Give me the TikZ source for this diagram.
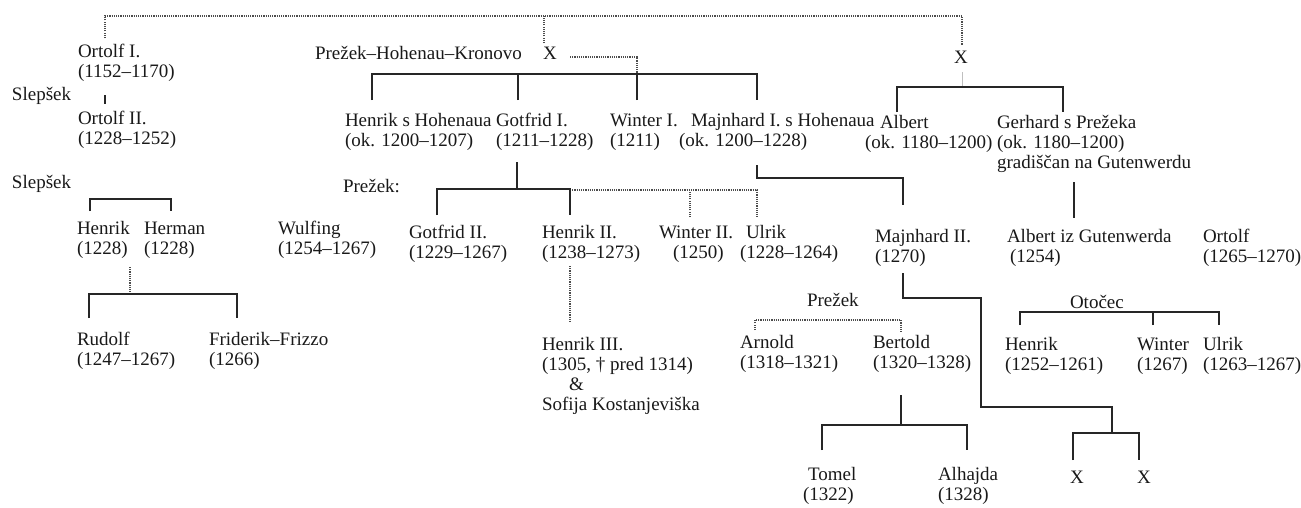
\documentclass[tikz,border=0pt]{standalone}
\usepackage{fontspec}
\setmainfont{Liberation Serif}
\newcommand\pfont{\fontsize{19}{20}\selectfont}
\newcommand\pers[1]{\begin{tabular}[t]{@{}l@{}}#1\end{tabular}}
\begin{document}
\begin{tikzpicture}[x=1pt,y=-1pt,
  person/.style={anchor=base west, inner sep=0pt, outer sep=0pt, font=\pfont, text=black!90},
  tie/.style={line width=1.8pt, black!85},
  dotl/.style={line width=1.4pt, black!70, dash pattern=on 1.1pt off 1.1pt},
  faint/.style={line width=1pt, black!25}]
\useasboundingbox[fill=white] (0,0) rectangle (1301,507);

% ---------- texts ----------
\node[person] (ortI)  at (78,57)  {\pers{Ortolf I.\\(1152–1170)}};
\node[person] (slepA) at (12,100) {Slepšek};
\node[person] (ortII) at (78,124) {\pers{Ortolf II.\\(1228–1252)}};
\node[person] (phk)   at (315,59) {Prežek–Hohenau–Kronovo};
\node[person] (xA)    at (543,59) {X};
\node[person] (xB)    at (954,63) {X};

\node[person] (henS)  at (345,126) {\pers{Henrik s Hohenaua\\(ok. 1200–1207)}};
\node[person] (gotI)  at (496,126) {\pers{Gotfrid I.\\(1211–1228)}};
\node[person] (winI)  at (610,126) {\pers{Winter I.\\(1211)}};
\node[person] (majI)  at (679,126) {\pers{\hspace{12pt}Majnhard I. s Hohenaua\\(ok. 1200–1228)}};
\node[person] (alb)   at (865,128) {\pers{\hspace{15pt}Albert\\(ok. 1180–1200)}};
\node[person] (ger)   at (997,128) {\pers{Gerhard s Prežeka\\(ok. 1180–1200)\\gradiščan na Gutenwerdu}};

\node[person] (prezA) at (343,192) {Prežek:};
\node[person] (slepB) at (12,188)  {Slepšek};

\node[person] (henr)  at (77,234)  {\pers{Henrik\\(1228)}};
\node[person] (herm)  at (144,234) {\pers{Herman\\(1228)}};
\node[person] (wulf)  at (278,234) {\pers{Wulfing\\(1254–1267)}};
\node[person] (gotII) at (409,238) {\pers{Gotfrid II.\\(1229–1267)}};
\node[person] (henII) at (542,238) {\pers{Henrik II.\\(1238–1273)}};
\node[person] (winII) at (659,238) {\pers{Winter II.\\\hspace{14pt}(1250)}};
\node[person] (ulr)   at (740,238) {\pers{\hspace{6pt}Ulrik\\(1228–1264)}};
\node[person] (majII) at (875,242) {\pers{Majnhard II.\\(1270)}};
\node[person] (albG)  at (1007,242) {\pers{Albert iz Gutenwerda\\\hspace{3pt}(1254)}};
\node[person] (ortO)  at (1203,242) {\pers{Ortolf\\(1265–1270)}};

\node[person] (rud)   at (77,345)  {\pers{Rudolf\\(1247–1267)}};
\node[person] (frid)  at (209,345) {\pers{Friderik–Frizzo\\(1266)}};
\node[person] (henIII) at (542,350) {\pers{Henrik III.\\(1305, † pred 1314)\\\hspace{27pt}\&\\Sofija Kostanjeviška}};
\node[person] (prezB) at (807,306) {Prežek};
\node[person] (arn)   at (740,348) {\pers{Arnold\\(1318–1321)}};
\node[person] (bert)  at (873,348) {\pers{Bertold\\(1320–1328)}};
\node[person] (otoc)  at (1070,308) {Otočec};
\node[person] (henO)  at (1005,350) {\pers{Henrik\\(1252–1261)}};
\node[person] (winO)  at (1137,350) {\pers{Winter\\(1267)}};
\node[person] (ulO)   at (1203,350) {\pers{Ulrik\\(1263–1267)}};

\node[person] (tom)   at (803,480) {\pers{\hspace{5pt}Tomel\\(1322)}};
\node[person] (alh)   at (938,480) {\pers{Alhajda\\(1328)}};
\node[person] (x1)    at (1070,483) {X};
\node[person] (x2)    at (1137,483) {X};

% ---------- connectors ----------
\coordinate (c1) at (105,38);
\coordinate (c2) at (962,45);
\coordinate (c3) at (544,43);
\draw[dotl] (c1) -- ++(0,-22) -| (c2);
\draw[dotl] (c3) -- ++(0,-27);

\coordinate (c4) at (570,57);
\coordinate (c5) at (637,74);
\draw[dotl] (c4) -| (c5);

\coordinate (o1) at (105,95);
\draw[tie,line width=1.5pt] (o1) -- ++(0,9);

\coordinate (d1) at (372,100);
\coordinate (d2) at (518,100);
\coordinate (d3) at (637,100);
\coordinate (d4) at (757,100);
\draw[tie] (d1) -- ++(0,-26) -| (d4);
\draw[tie] (d2) -- ++(0,-26);
\draw[tie] (d3) -- ++(0,-26);

\coordinate (g0) at (517,162);
\coordinate (g1) at (437,215);
\coordinate (g2) at (570,215);
\coordinate (g3) at (690,217);
\coordinate (g4) at (757,217);
\draw[dotl] ([shift={(0,-25)}]g2) -| (g4);
\draw[dotl] (g3) -- ++(0,-26);
\draw[tie] (g0) -- ++(0,27);
\draw[tie] (g1) -- ++(0,-26) -| (g2);

\coordinate (m0) at (757,165);
\coordinate (m1) at (903,205);
\draw[tie] (m0) -- ++(0,13) -| (m1);

\coordinate (a0) at (962,72);
\draw[faint] (a0) -- ++(0,15);
\coordinate (a1) at (897,112);
\coordinate (a2) at (1063,112);
\draw[tie] (a1) -- ++(0,-25) -| (a2);

\coordinate (gr) at (1074,182);
\draw[tie] (gr) -- ++(0,36);

\coordinate (s1) at (90,211);
\coordinate (s2) at (171,211);
\draw[tie] (s1) -- ++(0,-12) -| (s2);
\coordinate (s3) at (130,267);
\draw[dotl] (s3) -- ++(0,27);
\coordinate (s4) at (89,318);
\coordinate (s5) at (237,318);
\draw[tie] (s4) -- ++(0,-24) -| (s5);

\coordinate (h0) at (570,266);
\draw[dotl] (h0) -- ++(0,56);

\coordinate (mm0) at (903,273);
\coordinate (mm1) at (1112,433);
\draw[tie] (mm0) -- ++(0,25) -| ++(78,109) -| (mm1);
\coordinate (xx1) at (1073,460);
\coordinate (xx2) at (1139,460);
\draw[tie] (xx1) -- ++(0,-27) -| (xx2);

\coordinate (p1) at (755,330);
\coordinate (p2) at (901,333);
\draw[dotl] (p1) -- ++(0,-10) -| (p2);

\coordinate (b0) at (901,395);
\draw[tie] (b0) -- ++(0,30);
\coordinate (b1) at (822,450);
\coordinate (b2) at (967,450);
\draw[tie] (b1) -- ++(0,-25) -| (b2);

\coordinate (ot1) at (1020,325);
\coordinate (ot2) at (1219,325);
\coordinate (ot3) at (1153,325);
\draw[tie] (ot1) -- ++(0,-13) -| (ot2);
\draw[tie] (ot3) -- ++(0,-13);
\end{tikzpicture}
\end{document}
